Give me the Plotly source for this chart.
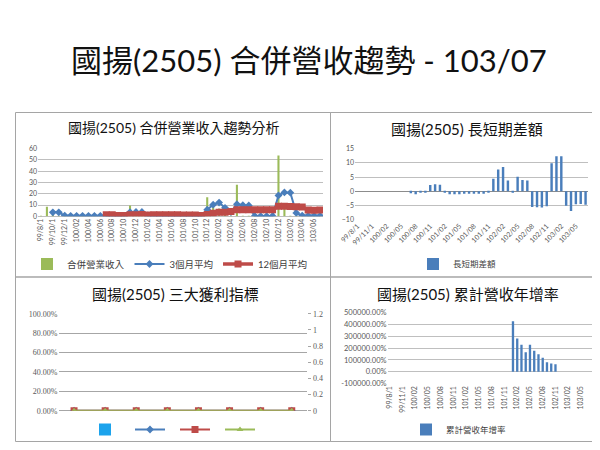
import plotly.graph_objects as go

# month categories, 99/08 .. 103/07
months = [
    "99/8/1", "99/9/1", "99/10/1", "99/11/1", "99/12/1",
    "100/01", "100/02", "100/03", "100/04", "100/05", "100/06",
    "100/07", "100/08", "100/09", "100/10", "100/11", "100/12",
    "101/01", "101/02", "101/03", "101/04", "101/05", "101/06",
    "101/07", "101/08", "101/09", "101/10", "101/11", "101/12",
    "102/01", "102/02", "102/03", "102/04", "102/05", "102/06",
    "102/07", "102/08", "102/09", "102/10", "102/11", "102/12",
    "103/01", "103/02", "103/03", "103/04", "103/05", "103/06", "103/07",
]

# chart 1: monthly revenue, 3-month and 12-month averages
revenue = [0.3, 8.5, 1.5, 0.5, 0.3, 0.4, 0.3, 0.5, 0.4, 0.3, 0.5, 0.3,
           0.4, 0.5, 0.4, 9.5, 1.0, 0.8, 0.3, 0.3, 0.3, 0.3, 0.3, 0.3,
           0.3, 0.3, 0.3, 0.3, 17.0, 12.0, 7.0, 2.0, 0.5, 28.0, 0.5, 0.5,
           0.2, 0.2, 0.2, 0.3, 54.0, 9.0, 0.5, 0.5, 0.5, 0.6, 0.5, 0.6]
avg3 = [None, None, 3.5, 3.5, 0.6, 0.4, 0.4, 0.4, 0.4, 0.4, 0.4, 0.4,
        0.4, 0.4, 0.4, 3.6, 3.8, 3.8, 0.7, 0.3, 0.3, 0.3, 0.3, 0.3,
        0.3, 0.3, 0.3, 0.3, 5.8, 10.3, 12.2, 7.5, 3.8, 10.8, 9.8, 9.6,
        0.3, 0.2, 0.2, 0.3, 18.5, 21.2, 21.0, 3.0, 0.6, 0.5, 0.5, 0.5]
avg12 = [None, None, None, None, None, None, None, None, None, None, None, 1.4,
         1.4, 0.8, 0.6, 1.4, 1.3, 1.5, 1.2, 1.3, 1.3, 1.3, 1.3, 1.3,
         1.2, 1.2, 1.2, 0.6, 1.6, 2.6, 3.6, 3.7, 4.2, 5.9, 5.9, 5.9,
         5.9, 5.9, 5.9, 5.8, 9.0, 8.9, 8.7, 8.4, 8.2, 5.5, 5.4, 5.5]

# chart 2: long/short difference
diff = [None, None, None, None, None, None, None, None, None, None, None, -0.7,
        -1.0, -0.4, -0.2, 2.2, 2.5, 2.3, -0.5, -1.0, -1.0, -1.0, -0.9, -0.9,
        -0.9, -0.9, -0.9, -0.3, 4.4, 7.7, 8.6, 3.8, -0.4, 5.1, 4.0, 3.8,
        -5.5, -5.6, -5.7, -5.3, 9.9, 12.3, 12.3, -5.1, -6.9, -4.6, -4.5, -4.7]

# chart 3: three profit indicators (all empty / zero)
profit_cats = ["c1", "c2", "c3", "c4", "c5", "c6", "c7", "c8"]
profit_bar = [0, 0, 0, 0, 0, 0, 0, 0]
profit_line1 = [0, 0, 0, 0, 0, 0, 0, 0]
profit_line2 = [0, 0, 0, 0, 0, 0, 0, 0]
profit_line3 = [0, 0, 0, 0, 0, 0, 0, 0]

# chart 4: cumulative revenue yoy growth (%)
growth = [None] * 29 + [425000, 280000, 228000, 165000, 228000, 176000,
                        147000, 118000, 81000, 69000, 64000] + [None] * 8
growth_tickvals = [-100000, 0, 100000, 200000, 300000, 400000, 500000]
growth_ticktext = ["-100000.00%", "0.00%", "100000.00%", "200000.00%",
                   "300000.00%", "400000.00%", "500000.00%"]

W, H = 600, 450
CJK = "Lato, 'Noto Sans CJK TC', sans-serif"
GRID = "#bfbfbf"
TICK = "#595959"


def px(x):
    return x / W


def py(y):
    return 1 - y / H


fig = go.Figure()

# ---- chart 1
fig.add_trace(go.Bar(x=months, y=revenue, name="合併營業收入", marker_color="#9bbb59",
                     width=0.35, xaxis="x", yaxis="y", legend="legend"))
fig.add_trace(go.Scatter(x=months, y=avg3, name="3個月平均", mode="lines+markers",
                         line=dict(color="#4a7ebb", width=2),
                         marker=dict(symbol="diamond", size=6, color="#4a7ebb"),
                         xaxis="x", yaxis="y", legend="legend"))
fig.add_trace(go.Scatter(x=months, y=avg12, name="12個月平均", mode="lines+markers",
                         line=dict(color="#be4b48", width=3.5),
                         marker=dict(symbol="square", size=7, color="#be4b48"),
                         xaxis="x", yaxis="y", legend="legend"))

# ---- chart 2
fig.add_trace(go.Bar(x=months, y=diff, name="長短期差額", marker_color="#4a7ebb",
                     width=0.5, xaxis="x2", yaxis="y2", legend="legend2"))

# ---- chart 3
fig.add_trace(go.Bar(x=profit_cats, y=profit_bar, name="", marker_color="#1ca3ec",
                     xaxis="x3", yaxis="y3", legend="legend3"))
fig.add_trace(go.Scatter(x=profit_cats, y=profit_line1, name="", mode="lines+markers",
                         line=dict(color="#4a7ebb", width=2),
                         marker=dict(symbol="diamond", size=6),
                         xaxis="x3", yaxis="y5", legend="legend3"))
fig.add_trace(go.Scatter(x=profit_cats, y=profit_line2, name="", mode="lines+markers",
                         line=dict(color="#be4b48", width=2),
                         marker=dict(symbol="square", size=7),
                         xaxis="x3", yaxis="y5", legend="legend3"))
fig.add_trace(go.Scatter(x=profit_cats, y=profit_line3, name="", mode="lines+markers",
                         line=dict(color="#9bbb59", width=2),
                         marker=dict(symbol="triangle-up", size=6),
                         xaxis="x3", yaxis="y5", legend="legend3"))

# ---- chart 4
fig.add_trace(go.Bar(x=months, y=growth, name="累計營收年增率", marker_color="#4a7ebb",
                     width=0.55, xaxis="x4", yaxis="y4", legend="legend4"))

tickf = dict(family=CJK, size=7, color=TICK)

fig.update_layout(
    template="none",
    width=W, height=H,
    margin=dict(l=0, r=0, t=0, b=0),
    paper_bgcolor="white", plot_bgcolor="white",
    font=dict(family=CJK, color="#404040"),
    xaxis=dict(domain=[px(30), px(315)], anchor="y", type="category",
               range=[-0.5, 47.5], tickvals=months[::2], tickangle=-90,
               tickfont=tickf, showgrid=False, ticks="", automargin=False),
    yaxis=dict(domain=[py(208.3), py(140.7)], anchor="x", range=[0, 60], dtick=10,
               gridcolor=GRID, zerolinecolor=GRID, tickfont=tickf, automargin=False),
    xaxis2=dict(domain=[px(347), px(580)], anchor="y2", type="category",
                range=[-0.5, 47.5], tickvals=months[::3], tickangle=-45,
                tickfont=tickf, showgrid=False, ticks="", automargin=False),
    yaxis2=dict(domain=[py(211.7), py(140.7)], anchor="x2", range=[-10, 15], dtick=5,
                gridcolor=GRID, zerolinecolor="#8c8c8c", tickfont=tickf, automargin=False),
    xaxis3=dict(domain=[px(50.5), px(299.3)], anchor="y3", type="category",
                range=[-0.5, 7.5], showticklabels=False, showgrid=False, ticks="",
                automargin=False),
    yaxis3=dict(domain=[py(402.7), py(305.7)], anchor="x3", range=[0, 1], dtick=0.2,
                tickformat=".2%", gridcolor="#a6a6a6", zerolinecolor="#a6a6a6",
                tickfont=dict(family="Liberation Serif", size=8, color=TICK),
                automargin=False),
    yaxis5=dict(overlaying="y3", side="right", anchor="x3", range=[0, 1.2], dtick=0.2,
                showgrid=False, zeroline=False, ticks="outside", ticklen=3,
                tickcolor="#a6a6a6", automargin=False,
                tickfont=dict(family="Liberation Serif", size=8, color=TICK)),
    xaxis4=dict(domain=[px(379.6), px(583.6)], anchor="y4", type="category",
                range=[-0.5, 47.5], tickvals=months[::3], tickangle=-90,
                tickfont=tickf, showgrid=False, ticks="", automargin=False),
    yaxis4=dict(domain=[py(375.7), py(304.3)], anchor="x4", range=[-100000, 500000],
                tickvals=growth_tickvals, ticktext=growth_ticktext, automargin=False,
                gridcolor=GRID, zerolinecolor=GRID,
                tickfont=dict(family=CJK, size=7.5, color=TICK)),
    legend=dict(x=px(162), y=py(256), xanchor="center", yanchor="middle",
                orientation="h", font=dict(size=9.5, color="#404040"),
                bgcolor="rgba(0,0,0,0)"),
    legend2=dict(x=px(405), y=py(256), xanchor="left", yanchor="middle",
                 orientation="h", font=dict(size=8.5, color="#404040"),
                 bgcolor="rgba(0,0,0,0)"),
    legend3=dict(x=px(167), y=py(421.5), xanchor="center", yanchor="middle",
                 orientation="h", font=dict(size=9), bgcolor="rgba(0,0,0,0)"),
    legend4=dict(x=px(398), y=py(421.5), xanchor="left", yanchor="middle",
                 orientation="h", font=dict(size=8.5, color="#404040"),
                 bgcolor="rgba(0,0,0,0)"),
    showlegend=True,
)

# panel frames
for x0, y0, x1, y1 in [(7.5, 104.5, 322.5, 269), (322.5, 104.5, 592, 269),
                       (7.5, 269, 322.5, 433.5), (322.5, 269, 592, 433.5)]:
    fig.add_shape(type="rect", xref="paper", yref="paper",
                  x0=px(x0), y0=py(y1), x1=px(x1), y1=py(y0),
                  line=dict(color="#a5a5a5", width=1))

# titles
fig.add_annotation(text="國揚(2505) 合併營收趨勢 - 103/07", x=px(301), y=py(52),
                   xref="paper", yref="paper", xanchor="center", yanchor="middle",
                   showarrow=False, font=dict(size=31, color="#111111"))
for txt, x, y, s in [("國揚(2505) 合併營業收入趨勢分析", 166, 120, 14),
                     ("國揚(2505) 長短期差額", 459, 121, 15),
                     ("國揚(2505) 三大獲利指標", 167, 286, 15),
                     ("國揚(2505) 累計營收年增率", 460, 286, 15)]:
    fig.add_annotation(text=txt, x=px(x), y=py(y), xref="paper", yref="paper",
                       xanchor="center", yanchor="middle", showarrow=False,
                       font=dict(size=s, color="#111111"))

fig.write_html("out.html")
